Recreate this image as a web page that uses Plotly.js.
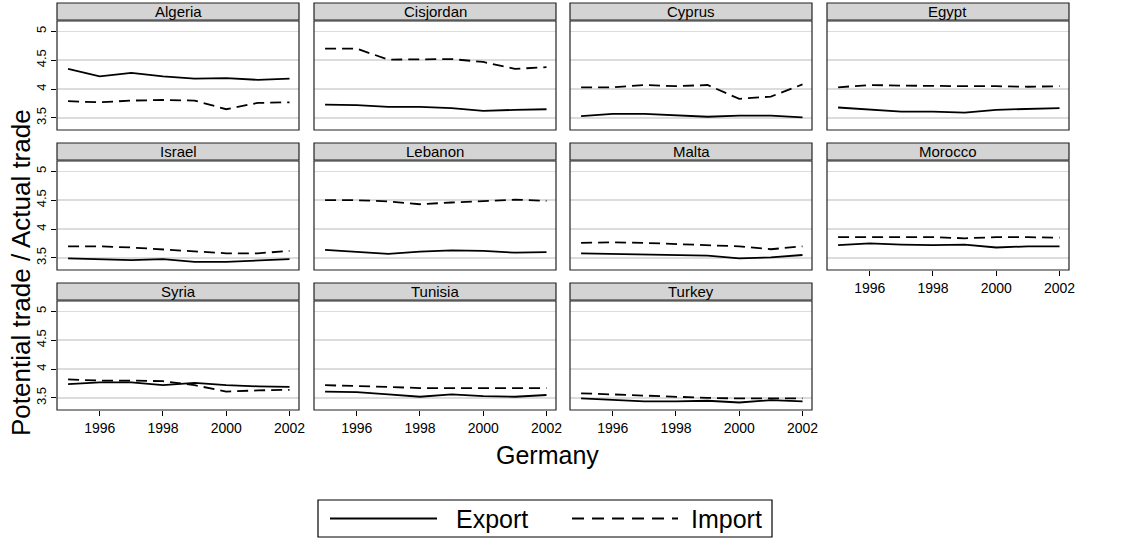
<!DOCTYPE html>
<html><head><meta charset="utf-8">
<script src="https://cdn.plot.ly/plotly-3.0.1.min.js"></script>
<style>html,body{margin:0;padding:0;background:#fff}</style>
</head><body>
<div id="chart" style="width:1124px;height:543px"></div>
<script>
const years = [1995, 1996, 1997, 1998, 1999, 2000, 2001, 2002];
const countries = ["Algeria", "Cisjordan", "Cyprus", "Egypt", "Israel", "Lebanon", "Malta", "Morocco", "Syria", "Tunisia", "Turkey"];
const xTickVals = [1996, 1998, 2000, 2002];
const yTickVals = [3.5, 4, 4.5, 5];
const yTickText = ["3.5", "4", "4.5", "5"];
const seriesNames = ["Export", "Import"];

const algeriaExport   = [4.35, 4.22, 4.28, 4.22, 4.18, 4.19, 4.16, 4.18];
const algeriaImport   = [3.79, 3.77, 3.80, 3.81, 3.80, 3.65, 3.76, 3.77];
const cisjordanExport = [3.73, 3.72, 3.69, 3.69, 3.67, 3.62, 3.64, 3.65];
const cisjordanImport = [4.70, 4.70, 4.51, 4.51, 4.52, 4.47, 4.35, 4.38];
const cyprusExport    = [3.53, 3.57, 3.57, 3.55, 3.52, 3.54, 3.54, 3.51];
const cyprusImport    = [4.03, 4.03, 4.07, 4.05, 4.07, 3.83, 3.87, 4.08];
const egyptExport     = [3.68, 3.65, 3.61, 3.61, 3.59, 3.64, 3.66, 3.67];
const egyptImport     = [4.03, 4.07, 4.06, 4.05, 4.05, 4.05, 4.04, 4.05];
const israelExport    = [3.49, 3.48, 3.46, 3.48, 3.43, 3.43, 3.45, 3.48];
const israelImport    = [3.70, 3.70, 3.68, 3.65, 3.61, 3.58, 3.58, 3.62];
const lebanonExport   = [3.64, 3.61, 3.57, 3.61, 3.63, 3.62, 3.59, 3.60];
const lebanonImport   = [4.50, 4.50, 4.48, 4.43, 4.46, 4.49, 4.51, 4.49];
const maltaExport     = [3.58, 3.57, 3.56, 3.55, 3.54, 3.49, 3.51, 3.55];
const maltaImport     = [3.76, 3.77, 3.76, 3.74, 3.71, 3.70, 3.65, 3.70];
const moroccoExport   = [3.72, 3.75, 3.73, 3.72, 3.73, 3.68, 3.70, 3.70];
const moroccoImport   = [3.86, 3.86, 3.86, 3.86, 3.84, 3.86, 3.86, 3.85];
const syriaExport     = [3.74, 3.77, 3.77, 3.72, 3.76, 3.72, 3.70, 3.69];
const syriaImport     = [3.82, 3.80, 3.80, 3.79, 3.72, 3.61, 3.63, 3.64];
const tunisiaExport   = [3.61, 3.60, 3.56, 3.52, 3.56, 3.53, 3.52, 3.55];
const tunisiaImport   = [3.72, 3.71, 3.69, 3.67, 3.67, 3.67, 3.67, 3.67];
const turkeyExport    = [3.49, 3.46, 3.44, 3.44, 3.45, 3.42, 3.46, 3.44];
const turkeyImport    = [3.58, 3.56, 3.53, 3.52, 3.50, 3.49, 3.49, 3.49];

const exportSeries = [algeriaExport, cisjordanExport, cyprusExport, egyptExport, israelExport, lebanonExport, maltaExport, moroccoExport, syriaExport, tunisiaExport, turkeyExport];
const importSeries = [algeriaImport, cisjordanImport, cyprusImport, egyptImport, israelImport, lebanonImport, maltaImport, moroccoImport, syriaImport, tunisiaImport, turkeyImport];

const W = 1124, H = 543;
const colX = [[57, 299], [314, 556], [570, 812], [827, 1069]];
const rowY = [[21, 130], [161, 270], [301, 410]];   // plot area top/bottom (px)
const stripH = 17;
const FONT = "Liberation Sans, Arial, sans-serif";

const traces = [];
const layout = {
  width: W, height: H,
  margin: {l: 0, r: 0, t: 0, b: 0},
  paper_bgcolor: "#ffffff", plot_bgcolor: "#ffffff",
  showlegend: false,
  font: {family: FONT, color: "#000"},
  shapes: [], annotations: []
};

const bottomInCol = {7: true, 8: true, 9: true, 10: true};

countries.forEach((c, i) => {
  const row = Math.floor(i / 4), col = i % 4;
  const n = i + 1;
  const xa = n === 1 ? "x" : "x" + n;
  const ya = n === 1 ? "y" : "y" + n;
  const [x0, x1] = colX[col];
  const [yt, yb] = rowY[row];
  traces.push({x: years, y: exportSeries[i], xaxis: xa, yaxis: ya, mode: "lines", name: seriesNames[0],
    line: {color: "#000", width: 1.8}, hoverinfo: "skip"});
  traces.push({x: years, y: importSeries[i], xaxis: xa, yaxis: ya, mode: "lines", name: seriesNames[1],
    line: {color: "#000", width: 1.8, dash: "11px,6px"}, hoverinfo: "skip"});
  const showX = !!bottomInCol[i];
  const showY = col === 0;
  layout["xaxis" + (n === 1 ? "" : n)] = {
    domain: [x0 / W, x1 / W], anchor: ya, range: [1994.65, 2002.3],
    tickvals: xTickVals, showticklabels: showX, ticks: showX ? "outside" : "",
    ticklen: 5, tickwidth: 1, tickcolor: "#000",
    tickfont: {family: FONT, size: 14, color: "#000"},
    showgrid: false, zeroline: false, showline: false, fixedrange: true
  };
  layout["yaxis" + (n === 1 ? "" : n)] = {
    domain: [1 - yb / H, 1 - yt / H], anchor: xa, range: [3.29, 5.18],
    tickvals: yTickVals, ticktext: yTickText, showticklabels: showY,
    ticks: showY ? "outside" : "", ticklen: 5, tickwidth: 1, tickcolor: "#000",
    tickangle: -90, tickfont: {family: FONT, size: 13, color: "#000"},
    showgrid: true, gridcolor: "#dcdcdc", gridwidth: 1.6,
    zeroline: false, showline: false, fixedrange: true
  };
  layout.shapes.push({type: "rect", xref: "paper", yref: "paper",
    x0: x0 / W, x1: x1 / W, y0: 1 - yb / H, y1: 1 - yt / H,
    line: {color: "#222", width: 1.2}, fillcolor: "rgba(0,0,0,0)", layer: "above"});
  layout.shapes.push({type: "rect", xref: "paper", yref: "paper",
    x0: x0 / W, x1: x1 / W, y0: 1 - (yt - 1) / H, y1: 1 - (yt - 1 - stripH) / H,
    line: {color: "#222", width: 1.2}, fillcolor: "#d4d4d4", layer: "above"});
  layout.annotations.push({xref: "paper", yref: "paper", x: (x0 + x1) / 2 / W,
    y: 1 - (yt - 1 - stripH / 2) / H, text: c, showarrow: false,
    xanchor: "center", yanchor: "middle", font: {family: FONT, size: 15, color: "#000"}});
});

layout.annotations.push({xref: "paper", yref: "paper", x: 21 / W, y: 1 - 273 / H,
  text: "Potential trade / Actual trade", textangle: -90, showarrow: false,
  xanchor: "center", yanchor: "middle", font: {family: FONT, size: 26, color: "#000"}});
layout.annotations.push({xref: "paper", yref: "paper", x: 547 / W, y: 1 - 455 / H,
  text: "Germany", showarrow: false, xanchor: "center", yanchor: "middle",
  font: {family: FONT, size: 25, color: "#000"}});

// legend (drawn by hand so the sample lines are long, as in the original)
const lgX0 = 318, lgX1 = 772, lgY0 = 500, lgY1 = 537, lgMid = 518.5;
layout.shapes.push({type: "rect", xref: "paper", yref: "paper",
  x0: lgX0 / W, x1: lgX1 / W, y0: 1 - lgY1 / H, y1: 1 - lgY0 / H,
  line: {color: "#000", width: 1.2}, fillcolor: "#fff"});
layout.shapes.push({type: "line", xref: "paper", yref: "paper",
  x0: 330 / W, x1: 437 / W, y0: 1 - lgMid / H, y1: 1 - lgMid / H,
  line: {color: "#000", width: 1.8}});
layout.shapes.push({type: "line", xref: "paper", yref: "paper",
  x0: 572 / W, x1: 678 / W, y0: 1 - lgMid / H, y1: 1 - lgMid / H,
  line: {color: "#000", width: 1.8, dash: "12px,8px"}});
layout.annotations.push({xref: "paper", yref: "paper", x: 492 / W, y: 1 - lgMid / H,
  text: seriesNames[0], showarrow: false, xanchor: "center", yanchor: "middle",
  font: {family: FONT, size: 25, color: "#000"}});
layout.annotations.push({xref: "paper", yref: "paper", x: 726 / W, y: 1 - lgMid / H,
  text: seriesNames[1], showarrow: false, xanchor: "center", yanchor: "middle",
  font: {family: FONT, size: 25, color: "#000"}});

Plotly.newPlot("chart", traces, layout, {staticPlot: true, displayModeBar: false});
</script>
</body></html>
